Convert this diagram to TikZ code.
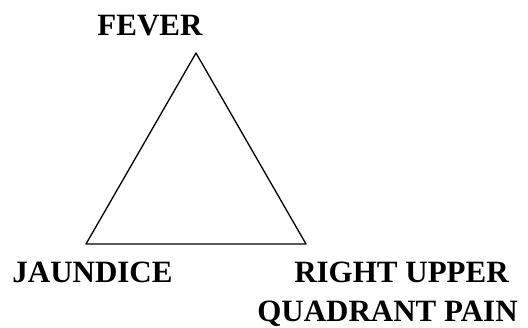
\documentclass[tikz,border=0pt]{standalone}
\usepackage{fontspec}
\setmainfont{Liberation Serif}
\begin{document}
\begin{tikzpicture}[x=1pt, y=-1pt, line cap=round, line join=round, font=\fontsize{31}{36}\selectfont\bfseries, line width=1.3pt]
			\useasboundingbox (0,0) rectangle (528,327);
			\coordinate (top) at (196,53);
			\coordinate (left) at (86,244);
			\coordinate (right) at (306,244);
			\draw (top)--(left)--(right)--cycle;
			\node[anchor=base, inner sep=0pt] (fever) at (150,35) {FEVER};
			\node[anchor=base, inner sep=0pt] (jaundice) at (92.5,282) {JAUNDICE};
			\node[anchor=base, inner sep=0pt] (rightupper) at (401.5,282) {RIGHT UPPER};
			\node[anchor=base, inner sep=0pt] (quadrant) at (387.5,321) {QUADRANT PAIN};
		\end{tikzpicture}
\end{document}
